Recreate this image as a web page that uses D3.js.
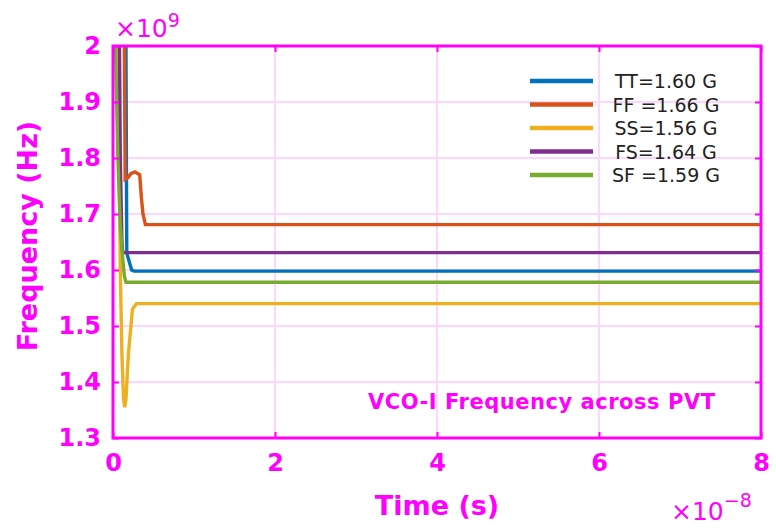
<!DOCTYPE html>
<html>
<head>
<meta charset="utf-8">
<script src="https://cdn.jsdelivr.net/npm/d3@7/dist/d3.min.js"></script>
<style>
  html, body { margin: 0; padding: 0; background: #fff; }
  svg { display: block; }
</style>
</head>
<body>
<svg id="chart" width="776" height="531"></svg>
<script>
// ---- Data (time in units of 1e-8 s, frequency in units of 1e9 Hz) ----
const seriesNames = ["TT=1.60 G", "FF =1.66 G", "SS=1.56 G", "FS=1.64 G", "SF =1.59 G"];
const seriesColors = ["#0072BD", "#D95319", "#EDB120", "#7E2F8E", "#77AC30"];

const ttTime = [0, 0.16, 0.17, 0.19, 0.23, 0.26, 8];
const ttFreq = [2.2, 2.0, 1.63, 1.62, 1.60, 1.598, 1.598];

const ffTime = [0, 0.14, 0.15, 0.185, 0.22, 0.27, 0.33, 0.35, 0.37, 0.40, 8];
const ffFreq = [2.2, 2.0, 1.762, 1.765, 1.772, 1.775, 1.77, 1.73, 1.70, 1.681, 1.681];

const ssTime = [0, 0.06, 0.09, 0.11, 0.13, 0.145, 0.16, 0.19, 0.24, 0.29, 8];
const ssFreq = [2.3, 2.0, 1.60, 1.45, 1.37, 1.355, 1.37, 1.45, 1.53, 1.540, 1.540];

const fsTime = [0, 0.08, 0.09, 0.11, 0.12, 8];
const fsFreq = [2.2, 2.0, 1.80, 1.65, 1.631, 1.631];

const sfTime = [0, 0.03, 0.06, 0.09, 0.12, 0.14, 0.16, 8];
const sfFreq = [2.3, 2.0, 1.80, 1.68, 1.62, 1.59, 1.578, 1.578];

const xTickValues = [0, 2, 4, 6, 8];
const xTickLabels = ["0", "2", "4", "6", "8"];
const yTickValues = [1.3, 1.4, 1.5, 1.6, 1.7, 1.8, 1.9, 2.0];
const yTickLabels = ["1.3", "1.4", "1.5", "1.6", "1.7", "1.8", "1.9", "2"];

const xLabel = "Time (s)";
const yLabel = "Frequency (Hz)";
const annotation = "VCO-I Frequency across PVT";

// ---- Build ----
const series = [
  { t: ttTime, f: ttFreq },
  { t: ffTime, f: ffFreq },
  { t: ssTime, f: ssFreq },
  { t: fsTime, f: fsFreq },
  { t: sfTime, f: sfFreq }
].map((s, i) => ({
  name: seriesNames[i],
  color: seriesColors[i],
  points: s.t.map((t, j) => ({ t: t, f: s.f[j] }))
}));

const MAG = "#ff00ff";
const GRID = "#ffd6ff";
const margin = { left: 113, right: 15, top: 46, bottom: 93 };
const W = 776, H = 531;
const iw = W - margin.left - margin.right;
const ih = H - margin.top - margin.bottom;

const svg = d3.select("#chart");
const x = d3.scaleLinear().domain([0, 8]).range([margin.left, margin.left + iw]);
const y = d3.scaleLinear().domain([1.3, 2.0]).range([margin.top + ih, margin.top]);

// grid
const grid = svg.append("g");
grid.selectAll("line.gx").data(xTickValues.slice(1, -1)).enter().append("line")
  .attr("x1", d => x(d)).attr("x2", d => x(d))
  .attr("y1", y(1.3)).attr("y2", y(2.0))
  .attr("stroke", GRID).attr("stroke-width", 2);
grid.selectAll("line.gy").data(yTickValues.slice(1, -1)).enter().append("line")
  .attr("y1", d => y(d)).attr("y2", d => y(d))
  .attr("x1", x(0)).attr("x2", x(8))
  .attr("stroke", GRID).attr("stroke-width", 2);

// clip
svg.append("clipPath").attr("id", "clip").append("rect")
  .attr("x", margin.left).attr("y", margin.top).attr("width", iw).attr("height", ih);

const line = d3.line().x(d => x(d.t)).y(d => y(d.f));
svg.append("g").attr("clip-path", "url(#clip)")
  .selectAll("path").data(series).enter().append("path")
  .attr("d", d => line(d.points))
  .attr("fill", "none")
  .attr("stroke", d => d.color)
  .attr("stroke-width", 3.4)
  .attr("stroke-linejoin", "miter");

// axes (ticks inward, on all sides)
const tickLen = 6;
const axB = svg.append("g").attr("transform", `translate(0,${y(1.3)})`)
  .call(d3.axisBottom(x).tickValues(xTickValues).tickFormat((d, i) => xTickLabels[i]).tickSizeInner(-tickLen).tickSizeOuter(0).tickPadding(16));
const axT = svg.append("g").attr("transform", `translate(0,${y(2.0)})`)
  .call(d3.axisTop(x).tickValues(xTickValues).tickFormat("").tickSizeInner(-tickLen).tickSizeOuter(0));
const axL = svg.append("g").attr("transform", `translate(${x(0)},0)`)
  .call(d3.axisLeft(y).tickValues(yTickValues).tickFormat((d, i) => yTickLabels[i]).tickSizeInner(-tickLen).tickSizeOuter(0).tickPadding(12));
const axR = svg.append("g").attr("transform", `translate(${x(8)},0)`)
  .call(d3.axisRight(y).tickValues(yTickValues).tickFormat("").tickSizeInner(-tickLen).tickSizeOuter(0));

[axB, axT, axL, axR].forEach(a => {
  a.select(".domain").remove();
  a.selectAll(".tick line").attr("stroke", MAG).attr("stroke-width", 2);
  a.selectAll(".tick text").attr("fill", MAG)
    .style("font-family", "'DejaVu Sans', sans-serif")
    .style("font-weight", "bold").style("font-size", "24px");
});

// box
svg.append("rect")
  .attr("x", margin.left).attr("y", margin.top).attr("width", iw).attr("height", ih)
  .attr("fill", "none").attr("stroke", MAG).attr("stroke-width", 3);

// axis labels
svg.append("text").attr("x", (x(0) + x(8)) / 2).attr("y", 515)
  .attr("text-anchor", "middle").attr("fill", MAG)
  .style("font-family", "'DejaVu Sans', sans-serif").style("font-weight", "bold").style("font-size", "27px")
  .text(xLabel);
svg.append("text").attr("transform", `translate(37,${(y(1.3) + y(2.0)) / 2 - 6}) rotate(-90)`)
  .attr("text-anchor", "middle").attr("fill", MAG)
  .style("font-family", "'DejaVu Sans', sans-serif").style("font-weight", "bold").style("font-size", "27px")
  .text(yLabel);

// exponent labels
const exp9 = svg.append("text").attr("x", 115).attr("y", 37).attr("fill", MAG)
  .style("font-family", "'DejaVu Sans', sans-serif").style("font-size", "25px");
exp9.append("tspan").text("×10");
exp9.append("tspan").attr("dy", -10).style("font-size", "19px").text("9");

const exp8 = svg.append("text").attr("x", 671).attr("y", 520).attr("fill", MAG)
  .style("font-family", "'DejaVu Sans', sans-serif").style("font-size", "25px");
exp8.append("tspan").text("×10");
exp8.append("tspan").attr("dy", -13).style("font-size", "19px").text("−8");

// annotation
svg.append("text").attr("x", 368).attr("y", 409).attr("fill", MAG)
  .attr("textLength", 347).attr("lengthAdjust", "spacing")
  .style("font-family", "'DejaVu Sans', sans-serif").style("font-weight", "bold").style("font-size", "21px")
  .text(annotation);

// legend
const leg = svg.append("g");
const rows = leg.selectAll("g").data(series).enter().append("g")
  .attr("transform", (d, i) => `translate(0,${81 + i * 23.5})`);
rows.append("line").attr("x1", 530).attr("x2", 593).attr("y1", 0).attr("y2", 0)
  .attr("stroke", d => d.color).attr("stroke-width", 4.5);
rows.append("text").attr("x", 666).attr("y", 7).attr("text-anchor", "middle")
  .attr("fill", "#222")
  .style("font-family", "'DejaVu Sans', sans-serif").style("font-size", "19px")
  .text(d => d.name);
</script>
</body>
</html>
